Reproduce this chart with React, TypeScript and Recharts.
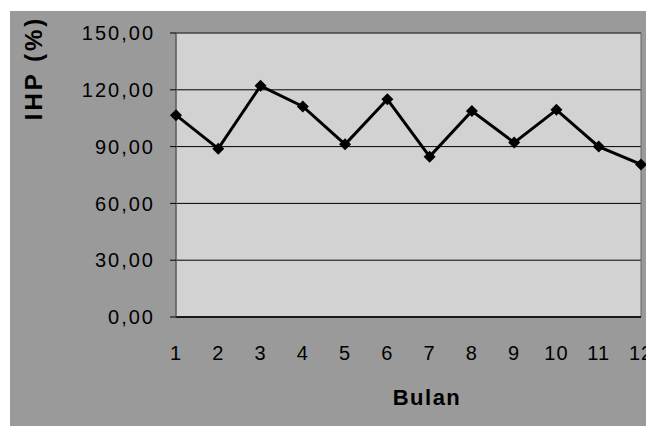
import React from 'react';
import {
  LineChart,
  Line,
  XAxis,
  YAxis,
  CartesianGrid,
  ReferenceArea,
} from 'recharts';

const months = ['1', '2', '3', '4', '5', '6', '7', '8', '9', '10', '11', '12'];
const ihp = [106.6, 88.9, 122.1, 111.2, 91.2, 115.0, 84.7, 108.8, 92.1, 109.4, 90.0, 80.6];
const yTicks = [0, 30, 60, 90, 120, 150];

const data = months.map((m, i) => ({ bulan: m, ihp: ihp[i] }));

const FONT = '"Liberation Sans", Arial, sans-serif';

const fmt = (v: number) => v.toFixed(2).replace('.', ',');

const Diamond = (props: any) => {
  const { cx, cy } = props;
  if (cx == null || cy == null) return null;
  const r = 6;
  return (
    <polygon
      points={`${cx},${cy - r} ${cx + r},${cy} ${cx},${cy + r} ${cx - r},${cy}`}
      fill="#000"
    />
  );
};

export default function App() {
  return (
    <div
      style={{
        position: 'absolute',
        left: 10,
        top: 11,
        width: 636,
        height: 415,
        background: '#9a9a9a',
      }}
    >
      <LineChart
        width={636}
        height={415}
        data={data}
        margin={{ top: 22, right: 5, bottom: 79, left: 0 }}
      >
        <CartesianGrid
          vertical={false}
          stroke="#000"
          strokeWidth={1}
          fill="#d2d2d2"
          fillOpacity={1}
        />
        <XAxis
          dataKey="bulan"
          height={30}
          tickLine={false}
          tickSize={0}
          tickMargin={29}
          axisLine={{ stroke: '#000', strokeWidth: 1.5 }}
          tick={{ fontSize: 20, fill: '#000', fontFamily: FONT, letterSpacing: 1 }}
          interval={0}
        />
        <YAxis
          width={166}
          domain={[0, 150]}
          ticks={yTicks}
          tickFormatter={fmt}
          tickSize={6}
          tickMargin={15}
          axisLine={{ stroke: '#555' }}
          tickLine={{ stroke: '#000' }}
          tick={{ fontSize: 20, fill: '#000', fontFamily: FONT, letterSpacing: 2 }}
        />
        <ReferenceArea
          y1={0}
          y2={150}
          fill="none"
          stroke="#666"
          strokeWidth={1}
          ifOverflow="extendDomain"
        />
        <Line
          type="linear"
          dataKey="ihp"
          stroke="#000"
          strokeWidth={3}
          dot={<Diamond />}
          isAnimationActive={false}
        />
        <text
          x={417}
          y={386}
          textAnchor="middle"
          dominantBaseline="central"
          fontFamily={FONT}
          fontWeight="bold"
          fontSize={22}
          letterSpacing={1.5}
          fill="#000"
        >
          Bulan
        </text>
        <text
          x={23}
          y={57}
          transform="rotate(-90 23 57)"
          textAnchor="middle"
          dominantBaseline="central"
          fontFamily={FONT}
          fontWeight="bold"
          fontSize={24}
          letterSpacing={3}
          fill="#000"
        >
          IHP (%)
        </text>
      </LineChart>
    </div>
  );
}
